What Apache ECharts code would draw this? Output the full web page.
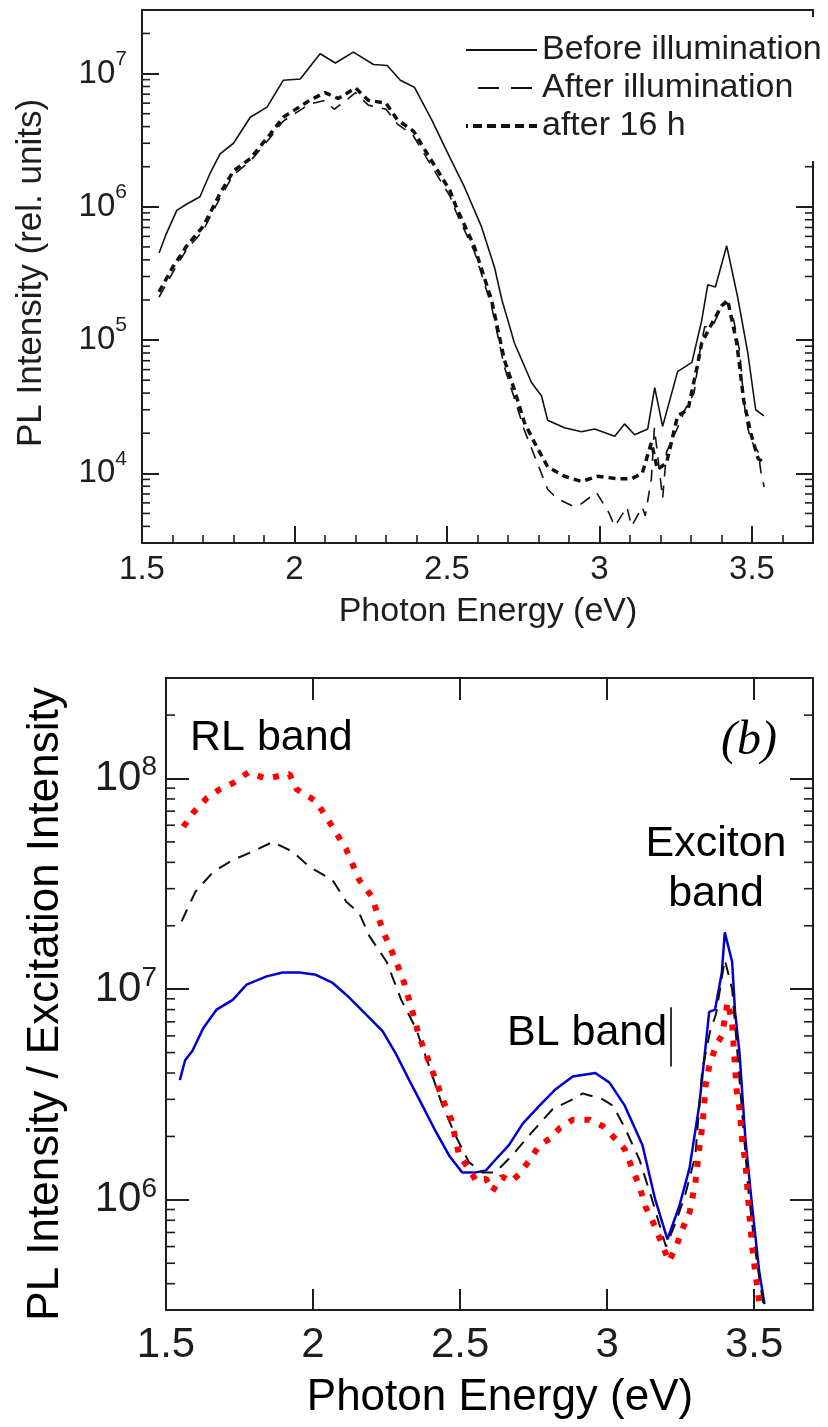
<!DOCTYPE html>
<html><head><meta charset="utf-8">
<script src="https://cdn.jsdelivr.net/npm/echarts@6/dist/echarts.min.js"></script>
<style>html,body{margin:0;padding:0;background:#fff}#c{width:828px;height:1427px}</style>
</head><body><div id="c"></div>
<script>
// ---------- Panel (a): PL intensity (rel. units) ----------
const topBeforeE = [1.556,1.58,1.614,1.647,1.69,1.723,1.756,1.80,1.855,1.91,1.963,2.019,2.06,2.084,2.134,2.193,2.259,2.304,2.347,2.393,2.45,2.50,2.557,2.613,2.656,2.68,2.70,2.721,2.777,2.81,2.83,2.885,2.941,2.984,3.05,3.082,3.115,3.158,3.181,3.207,3.256,3.303,3.335,3.355,3.38,3.417,3.453,3.486,3.512,3.539];
const topBeforeI = [4.5e5,6.3e5,9.4e5,1.05e6,1.19e6,1.78e6,2.5e6,3.0e6,4.7e6,5.6e6,8.9e6,9.1e6,1.2e7,1.41e7,1.2e7,1.45e7,1.17e7,1.15e7,8.9e6,7.9e6,4.5e6,2.6e6,1.41e6,7.1e5,3.5e5,2.0e5,1.4e5,9.5e4,4.8e4,3.8e4,2.5e4,2.2e4,2.05e4,2.15e4,1.9e4,2.35e4,1.95e4,2.15e4,4.4e4,2.25e4,5.8e4,6.8e4,1.4e5,2.6e5,2.5e5,5.1e5,2.1e5,8.1e4,3.0e4,2.7e4];

const topAfterE = [1.556,1.60,1.647,1.70,1.756,1.80,1.855,1.92,1.963,2.05,2.10,2.13,2.17,2.20,2.242,2.30,2.337,2.39,2.445,2.51,2.53,2.59,2.646,2.688,2.72,2.754,2.787,2.83,2.86,2.918,2.94,2.99,3.03,3.05,3.09,3.105,3.14,3.15,3.17,3.18,3.207,3.22,3.256,3.28,3.31,3.33,3.345,3.37,3.40,3.42,3.44,3.46,3.473,3.486,3.496,3.52,3.53,3.54];
const topAfterI = [2.1e5,3.2e5,4.8e5,6.6e5,1.17e6,1.74e6,2.2e6,3.3e6,4.4e6,5.9e6,6.3e6,5.4e6,6.3e6,7.2e6,5.8e6,5.4e6,4.2e6,3.4e6,2.1e6,1.2e6,9.1e5,4.6e5,1.8e5,6.3e4,3.7e4,2.1e4,1.35e4,7.6e3,6.5e3,5.6e3,5.9e3,7.2e3,5.1e3,4.0e3,5.6e3,4.0e3,5.6e3,4.8e3,9.1e3,2.2e4,6.5e3,1.45e4,2.2e4,3.0e4,4.0e4,8.5e4,1.26e5,1.26e5,1.78e5,1.9e5,1.41e5,8.1e4,3.5e4,2.2e4,1.78e4,1.45e4,1.0e4,7.9e3];

const top16hE = [1.556,1.60,1.647,1.70,1.756,1.80,1.855,1.92,1.963,2.05,2.10,2.143,2.20,2.242,2.30,2.337,2.39,2.445,2.51,2.53,2.59,2.646,2.688,2.72,2.754,2.787,2.83,2.885,2.941,2.995,3.06,3.105,3.14,3.17,3.19,3.22,3.256,3.29,3.32,3.335,3.37,3.40,3.42,3.45,3.473,3.496,3.52,3.54];
const top16hI = [2.3e5,3.5e5,5.1e5,7.1e5,1.26e6,1.86e6,2.3e6,3.5e6,4.7e6,6.3e6,7.2e6,6.5e6,7.8e6,6.3e6,6.0e6,4.5e6,3.7e6,2.3e6,1.32e6,1.0e6,5.0e5,2.0e5,7.1e4,4.3e4,2.4e4,1.7e4,1.12e4,9.5e3,8.7e3,9.5e3,9.1e3,9.1e3,1.0e4,1.7e4,1.07e4,1.2e4,2.7e4,3.0e4,6.3e4,9.5e4,1.35e5,1.8e5,2.0e5,9.5e4,3.5e4,2.0e4,1.29e4,1.2e4];

// ---------- Panel (b): PL intensity / excitation intensity ----------
const botBlueE = [1.547,1.565,1.59,1.626,1.672,1.727,1.774,1.842,1.897,1.954,2.01,2.067,2.124,2.18,2.237,2.283,2.327,2.372,2.418,2.463,2.507,2.554,2.588,2.62,2.666,2.713,2.77,2.825,2.883,2.96,3.008,3.06,3.12,3.163,3.205,3.245,3.28,3.313,3.335,3.347,3.367,3.39,3.40,3.425,3.435,3.45,3.47,3.493,3.517,3.535];
const botBlueI = [3.7e6,4.6e6,5.1e6,6.5e6,8.0e6,8.9e6,1.05e7,1.15e7,1.2e7,1.2e7,1.17e7,1.07e7,9.1e6,7.6e6,6.3e6,4.9e6,3.7e6,2.8e6,2.1e6,1.62e6,1.35e6,1.35e6,1.38e6,1.55e6,1.82e6,2.3e6,2.8e6,3.35e6,3.85e6,4.0e6,3.6e6,2.8e6,1.82e6,1.01e6,6.5e5,9.3e5,1.41e6,2.8e6,5.4e6,7.8e6,8.0e6,1.2e7,1.86e7,1.35e7,7.8e6,5.0e6,1.95e6,9.3e5,4.6e5,3.2e5];

const botBlackE = [1.553,1.60,1.66,1.727,1.795,1.863,1.93,1.988,2.066,2.113,2.157,2.19,2.25,2.30,2.35,2.395,2.44,2.486,2.53,2.575,2.62,2.676,2.745,2.815,2.883,2.917,2.985,3.02,3.06,3.11,3.155,3.20,3.23,3.265,3.30,3.323,3.35,3.37,3.40,3.425,3.44,3.46,3.48,3.50,3.52,3.535];
const botBlackI = [2.1e7,2.9e7,3.6e7,4.1e7,4.5e7,5.0e7,4.5e7,3.8e7,3.3e7,2.6e7,2.3e7,1.8e7,1.35e7,8.9e6,6.5e6,4.3e6,2.8e6,2.0e6,1.51e6,1.35e6,1.35e6,1.62e6,2.1e6,2.7e6,3.0e6,3.2e6,3.0e6,2.8e6,2.2e6,1.55e6,9.8e5,6.0e5,7.6e5,1.05e6,1.62e6,4.1e6,6.3e6,7.6e6,1.38e7,1.0e7,5.6e6,2.5e6,1.12e6,6.3e5,4.0e5,3.0e5];

const botRedE = [1.559,1.593,1.64,1.683,1.727,1.78,1.84,1.92,1.944,2.01,2.066,2.113,2.157,2.20,2.237,2.283,2.31,2.343,2.36,2.40,2.445,2.47,2.497,2.53,2.554,2.588,2.61,2.643,2.673,2.70,2.737,2.77,2.805,2.84,2.883,2.94,2.985,3.02,3.06,3.086,3.11,3.13,3.155,3.18,3.21,3.233,3.255,3.28,3.30,3.313,3.325,3.335,3.347,3.37,3.39,3.41,3.425,3.44,3.45,3.46,3.47,3.483,3.493,3.503,3.517];
const botRedI = [5.9e7,6.9e7,8.1e7,8.9e7,9.5e7,1.07e8,1.0e8,1.05e8,8.9e7,7.8e7,5.9e7,4.6e7,3.3e7,2.75e7,1.9e7,1.35e7,1.07e7,7.4e6,6.0e6,4.3e6,2.9e6,2.4e6,1.62e6,1.41e6,1.23e6,1.26e6,1.1e6,1.29e6,1.22e6,1.32e6,1.55e6,1.82e6,1.95e6,2.2e6,2.4e6,2.4e6,2.24e6,2.0e6,1.74e6,1.4e6,1.16e6,9.3e5,7.9e5,6.5e5,5.1e5,5.9e5,7.2e5,8.7e5,1.2e6,1.74e6,2.3e6,3.5e6,4.3e6,5.4e6,6.0e6,8.7e6,6.9e6,3.35e6,2.7e6,1.86e6,1.51e6,8.7e5,6.0e5,4.6e5,3.3e5];

// BL band marker bar (data coordinates)
const blBarE = 3.215;
const blBarI = [8.2e6, 4.3e6];

// axis ranges and tick values
const X_MIN = 1.5, X_MAX = 3.7, X_STEP = 0.5;
const TOP_Y = [3e3, 3e7];
const BOT_Y = [3e5, 3e8];
const minorMult = [2,3,4,5,6,7,8,9];
function minorTicks(range) {
  const out = [];
  for (let d = Math.floor(Math.log10(range[0])); d <= Math.ceil(Math.log10(range[1])); d++) {
    minorMult.forEach(m => { const v = m * Math.pow(10, d); if (v > range[0] * 1.0001 && v < range[1] * 0.9999) out.push(v); });
  }
  return out;
}
const topMinor = minorTicks(TOP_Y);
const botMinor = minorTicks(BOT_Y);

const zip = (a, b) => a.map((v, i) => [v, b[i]]);
const FONT = '"Liberation Sans", Arial, Helvetica, sans-serif';
const INK = '#1e1e1e';

function supFmt(v) {
  const e = Math.log10(v);
  if (Math.abs(e - Math.round(e)) > 1e-6) return '';
  return '{b|10}{s|' + Math.round(e) + '}';
}

function logY(grid, range, pos, tickLen, showLabel, bSize, sSize, lh, margin) {
  return {
    type: 'log', gridIndex: grid, position: pos, min: range[0], max: range[1], logBase: 10,
    axisLine: { show: true, lineStyle: { color: INK, width: 2 } },
    axisTick: { show: true, inside: true, length: tickLen, lineStyle: { color: INK, width: 2 } },
    minorTick: { show: false }, splitLine: { show: false }, minorSplitLine: { show: false },
    axisLabel: showLabel ? {
      show: true, margin: margin, formatter: supFmt,
      rich: {
        b: { fontSize: bSize, fontFamily: FONT, color: INK, lineHeight: lh },
        s: { fontSize: sSize, fontFamily: FONT, color: INK, lineHeight: sSize, verticalAlign: 'top' }
      }
    } : { show: false }
  };
}

function minorSeries(xi, yi, values, len) {
  return {
    type: 'custom', xAxisIndex: xi, yAxisIndex: yi, silent: true, clip: false, z: 5,
    data: values.map(v => [X_MIN, v]),
    renderItem: function (params, api) {
      const v = api.value(1);
      const pL = api.coord([X_MIN, v]);
      const pR = api.coord([X_MAX, v]);
      const st = { stroke: INK, lineWidth: 1.6 };
      return { type: 'group', children: [
        { type: 'line', shape: { x1: pL[0], y1: pL[1], x2: pL[0] + len, y2: pL[1] }, style: st },
        { type: 'line', shape: { x1: pR[0] - len, y1: pR[1], x2: pR[0], y2: pR[1] }, style: st }
      ]};
    }
  };
}

const chart = echarts.init(document.getElementById('c'), null, { renderer: 'canvas' });
chart.setOption({
  animation: false,
  backgroundColor: '#fff',
  grid: [
    { left: 142, top: 10, width: 671, height: 533 },
    { left: 166, top: 678, width: 647, height: 632 }
  ],
  xAxis: [
    { type: 'value', gridIndex: 0, min: X_MIN, max: X_MAX, interval: X_STEP,
      axisLine: { lineStyle: { color: INK, width: 2 } },
      axisTick: { inside: true, length: 17, lineStyle: { color: INK, width: 2 } },
      minorTick: { show: true, splitNumber: 5, length: 8, lineStyle: { color: INK, width: 1.6 } },
      splitLine: { show: false }, minorSplitLine: { show: false },
      axisLabel: { fontSize: 33, fontFamily: FONT, color: INK, margin: 10, showMaxLabel: false, formatter: v => String(v) } },
    { type: 'value', gridIndex: 0, position: 'top', min: X_MIN, max: X_MAX, interval: X_STEP,
      axisLine: { lineStyle: { color: INK, width: 2 } }, axisTick: { show: false },
      axisLabel: { show: false }, splitLine: { show: false } },
    { type: 'value', gridIndex: 1, min: X_MIN, max: X_MAX, interval: X_STEP,
      axisLine: { lineStyle: { color: INK, width: 2 } },
      axisTick: { inside: true, length: 21, lineStyle: { color: INK, width: 2 } },
      splitLine: { show: false },
      axisLabel: { fontSize: 42, fontFamily: FONT, color: INK, margin: 14, showMaxLabel: false, formatter: v => String(v) } },
    { type: 'value', gridIndex: 1, position: 'top', min: X_MIN, max: X_MAX, interval: X_STEP,
      axisLine: { lineStyle: { color: INK, width: 2 } },
      axisTick: { inside: true, length: 22, lineStyle: { color: INK, width: 2 } },
      axisLabel: { show: false }, splitLine: { show: false } }
  ],
  yAxis: [
    logY(0, TOP_Y, 'left', 17, true, 33, 21, 50, 15),
    logY(0, TOP_Y, 'right', 17, false),
    logY(1, BOT_Y, 'left', 23, true, 42, 28, 50, 9),
    logY(1, BOT_Y, 'right', 23, false)
  ],
  legend: {
    data: [
      { name: 'Before illumination', lineStyle: { width: 1.8 } },
      { name: 'After illumination', lineStyle: { width: 1.8, type: [21, 12], dashOffset: 21 } },
      { name: 'after 16 h', lineStyle: { width: 4, type: [9, 5] } }
    ],
    orient: 'vertical', left: 459, top: 17,
    padding: [16, 12, 18, 5], itemGap: 4,
    itemWidth: 71, itemHeight: 14,
    backgroundColor: '#fff', z: 10,
    itemStyle: { opacity: 0, borderWidth: 0 },
    textStyle: { fontSize: 34, fontFamily: FONT, color: INK, lineHeight: 34 },
    selectedMode: false
  },
  series: [
    { name: 'Before illumination', type: 'line', xAxisIndex: 0, yAxisIndex: 0, symbol: 'none',
      lineStyle: { color: '#111', width: 1.6 }, itemStyle: { color: '#111' }, data: zip(topBeforeE, topBeforeI) },
    { name: 'After illumination', type: 'line', xAxisIndex: 0, yAxisIndex: 0, symbol: 'none',
      lineStyle: { color: '#111', width: 1.6, type: [12, 9] }, itemStyle: { color: '#111' }, data: zip(topAfterE, topAfterI) },
    { name: 'after 16 h', type: 'line', xAxisIndex: 0, yAxisIndex: 0, symbol: 'none',
      lineStyle: { color: '#111', width: 3.5, type: [7, 5] }, itemStyle: { color: '#111' }, data: zip(top16hE, top16hI) },
    minorSeries(0, 0, topMinor, 8),

    { name: 'blue', type: 'line', xAxisIndex: 2, yAxisIndex: 2, symbol: 'none',
      lineStyle: { color: '#0000d0', width: 2.5 }, data: zip(botBlueE, botBlueI),
      markLine: { silent: true, symbol: 'none', label: { show: false },
        lineStyle: { color: INK, width: 1.8, type: 'solid' },
        data: [[{ coord: [blBarE, blBarI[0]] }, { coord: [blBarE, blBarI[1]] }]] } },
    { name: 'black', type: 'line', xAxisIndex: 2, yAxisIndex: 2, symbol: 'none',
      lineStyle: { color: '#111', width: 2, type: [13, 9] }, data: zip(botBlackE, botBlackI) },
    { name: 'red', type: 'line', xAxisIndex: 2, yAxisIndex: 2, symbol: 'none',
      lineStyle: { color: '#ff0000', width: 6, type: [6, 10] }, data: zip(botRedE, botRedI) },
    minorSeries(2, 2, botMinor, 9)
  ],
  graphic: [
    { type: 'text', x: 31, y: 273, rotation: Math.PI / 2,
      style: { text: 'PL Intensity (rel. units)', font: '35px ' + FONT, fill: INK, align: 'center', verticalAlign: 'middle' } },
    { type: 'text', x: 488, y: 612,
      style: { text: 'Photon Energy (eV)', font: '34px ' + FONT, fill: INK, align: 'center', verticalAlign: 'middle' } },
    { type: 'text', x: 46, y: 1004, rotation: Math.PI / 2,
      style: { text: 'PL Intensity / Excitation Intensity', font: '44px ' + FONT, fill: '#000', align: 'center', verticalAlign: 'middle' } },
    { type: 'text', x: 500, y: 1398,
      style: { text: 'Photon Energy (eV)', font: '44px ' + FONT, fill: '#000', align: 'center', verticalAlign: 'middle' } },
    { type: 'text', x: 190, y: 738,
      style: { text: 'RL band', font: '43px ' + FONT, fill: '#000', align: 'left', verticalAlign: 'middle' } },
    { type: 'text', x: 749, y: 741,
      style: { text: '(b)', font: 'italic 48px "Liberation Serif", "Times New Roman", serif', fill: '#000', align: 'center', verticalAlign: 'middle' } },
    { type: 'text', x: 716, y: 844,
      style: { text: 'Exciton', font: '43px ' + FONT, fill: '#000', align: 'center', verticalAlign: 'middle' } },
    { type: 'text', x: 716, y: 894,
      style: { text: 'band', font: '43px ' + FONT, fill: '#000', align: 'center', verticalAlign: 'middle' } },
    { type: 'text', x: 507, y: 1033,
      style: { text: 'BL band', font: '43px ' + FONT, fill: '#000', align: 'left', verticalAlign: 'middle' } }
  ]
});
</script>
</body></html>
